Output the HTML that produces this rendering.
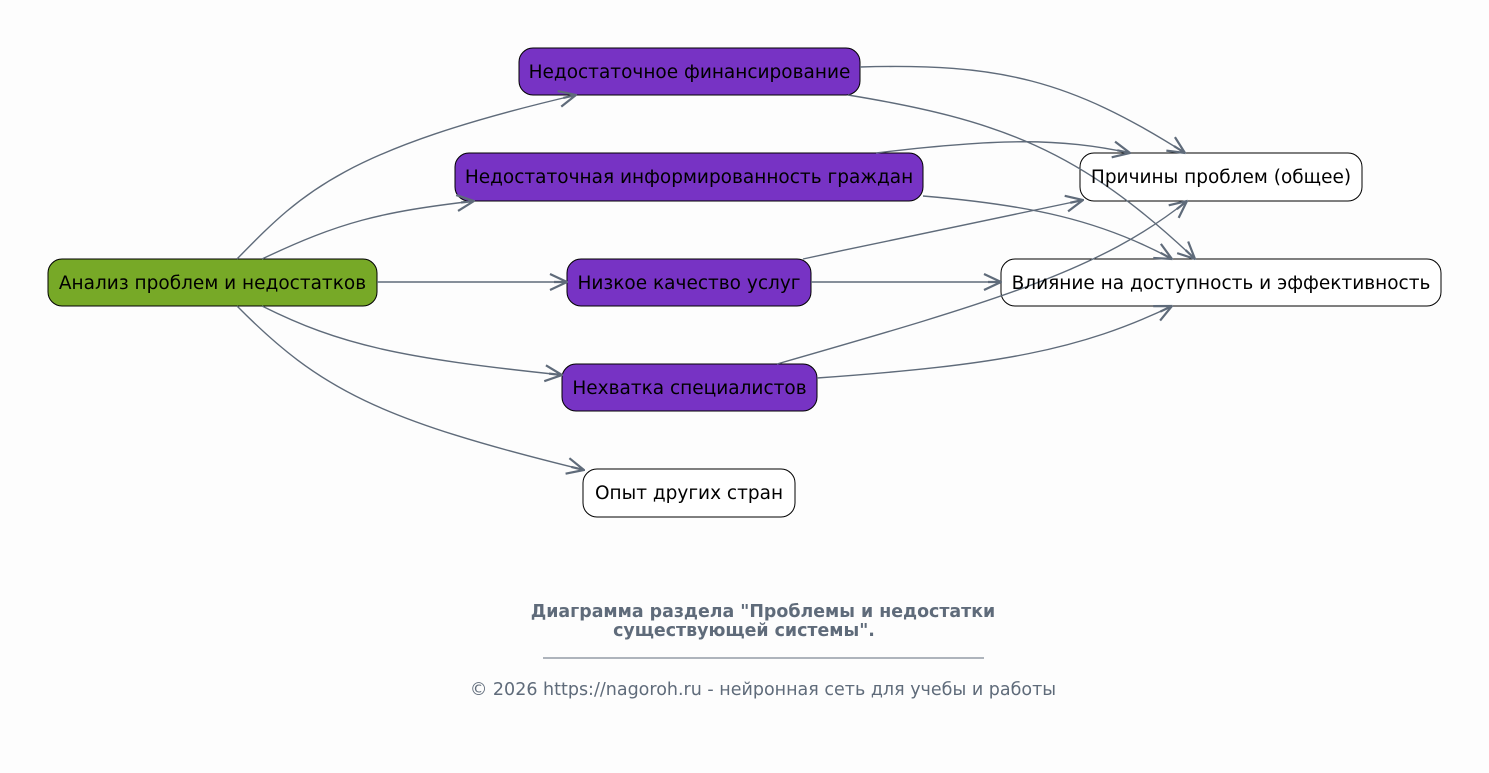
<!DOCTYPE html>
<html><head><meta charset="utf-8"><style>
html,body{margin:0;padding:0;background:#fdfdfd;}
svg{display:block;font-family:"DejaVu Sans","Liberation Sans",sans-serif;}
</style></head><body>
<svg width="1489" height="773" viewBox="0 0 1489 773" xmlns="http://www.w3.org/2000/svg">
<defs>
<marker id="a" viewBox="0 0 20 20" refX="19" refY="10" markerWidth="20" markerHeight="20" markerUnits="userSpaceOnUse" orient="auto">
<path d="M2,2 L19,10 L2,18 M6,10 L19,10" fill="none" stroke="#5f6b7a" stroke-width="2.2"/>
</marker>
</defs>
<rect width="1489" height="773" fill="#fdfdfd"/>
<g stroke="#000" stroke-width="1">
<rect x="48" y="259" width="329" height="47" rx="14" fill="#77a927"/>
<rect x="519" y="48" width="341" height="47" rx="14" fill="#7733c4"/>
<rect x="455" y="153" width="468" height="48" rx="14" fill="#7733c4"/>
<rect x="567" y="259" width="244" height="47" rx="14" fill="#7733c4"/>
<rect x="562" y="364" width="255" height="47" rx="14" fill="#7733c4"/>
<rect x="583" y="469" width="212" height="48" rx="14" fill="#fff"/>
<rect x="1080" y="153" width="282" height="48" rx="14" fill="#fff"/>
<rect x="1001" y="259" width="440" height="47" rx="14" fill="#fff"/>
</g>
<g fill="none" stroke="#5f6b7a" stroke-width="1.4" marker-end="url(#a)">
<path d="M237,259 C300,195 340,150 576,95"/>
<path d="M262,259 C340,222 380,212 474,201"/>
<path d="M377,282 L567,282"/>
<path d="M262,306 C340,345 400,358 562,375"/>
<path d="M237,306 C320,390 380,420 584,470"/>
<path d="M860,67 C1000,63 1070,80 1185,153"/>
<path d="M848,95 C1000,120 1080,150 1195,259"/>
<path d="M876,153 C1000,138 1060,138 1130,153"/>
<path d="M923,196 C1030,205 1100,220 1172,259"/>
<path d="M803,259 C900,238 1000,218 1083,200"/>
<path d="M811,282 L1001,282"/>
<path d="M777,364 C1000,300 1100,270 1187,201"/>
<path d="M817,378 C1000,365 1080,350 1172,306"/>
</g>
<g font-size="18.5" fill="#000" text-anchor="middle">
<text x="212.5" y="289">Анализ проблем и недостатков</text>
<text x="689.5" y="78">Недостаточное финансирование</text>
<text x="689" y="183">Недостаточная информированность граждан</text>
<text x="689" y="289">Низкое качество услуг</text>
<text x="689.5" y="394">Нехватка специалистов</text>
<text x="689" y="499">Опыт других стран</text>
<text x="1221" y="183">Причины проблем (общее)</text>
<text x="1221" y="289">Влияние на доступность и эффективность</text>
</g>
<g fill="#5f6b7a" text-anchor="middle">
<text x="763" y="617" font-size="17.4" font-weight="bold">Диаграмма раздела "Проблемы и недостатки</text>
<text x="744" y="636" font-size="17.4" font-weight="bold">существующей системы".</text>
<line x1="543" y1="658" x2="984" y2="658" stroke="#5f6b7a" stroke-width="1"/>
<text x="763" y="695" font-size="17.5">© 2026 https://nagoroh.ru - нейронная сеть для учебы и работы</text>
</g>
</svg>
</body></html>
